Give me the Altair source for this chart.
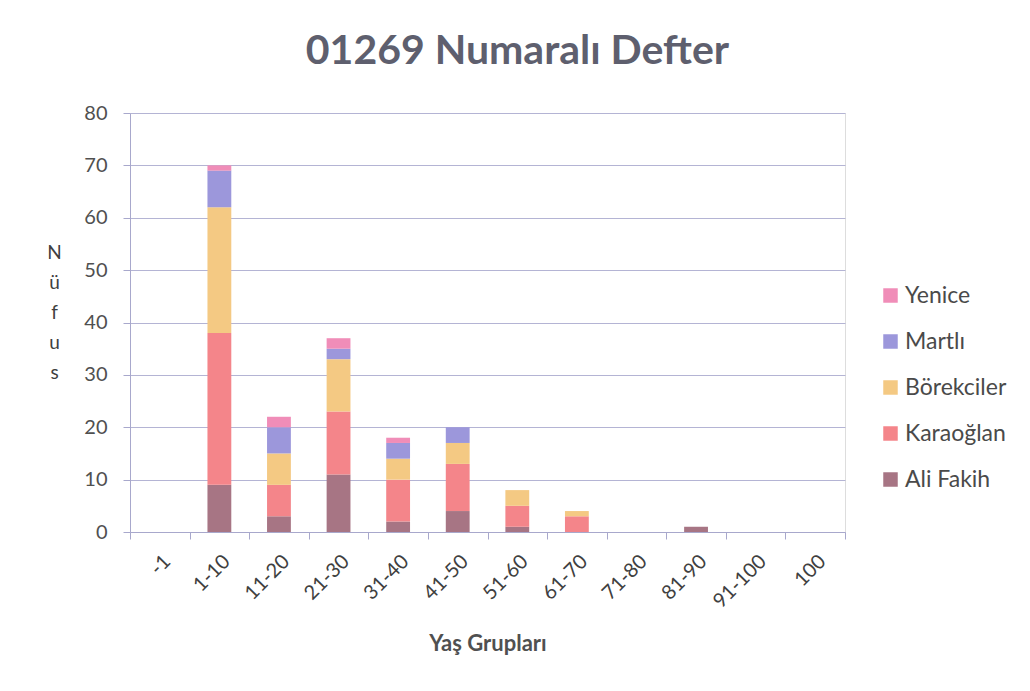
import altair as alt
import pandas as pd

categories = ["-1", "1-10", "11-20", "21-30", "31-40", "41-50", "51-60",
              "61-70", "71-80", "81-90", "91-100", "100"]
series = ["Ali Fakih", "Karaoğlan", "Börekciler", "Martlı", "Yenice"]
ali_fakih  = [0, 9, 3, 11, 2, 4, 1, 0, 0, 1, 0, 0]
karaoglan  = [0, 29, 6, 12, 8, 9, 4, 3, 0, 0, 0, 0]
borekciler = [0, 24, 6, 10, 4, 4, 3, 1, 0, 0, 0, 0]
martli     = [0, 7, 5, 2, 3, 3, 0, 0, 0, 0, 0, 0]
yenice     = [0, 1, 2, 2, 1, 0, 0, 0, 0, 0, 0, 0]
colors = ["#A77584", "#F4858A", "#F4C983", "#9C97DB", "#F08DB8"]

rows = []
for s_i, (name, vals) in enumerate(zip(series, [ali_fakih, karaoglan, borekciler, martli, yenice])):
    for c, v in zip(categories, vals):
        rows.append({"grup": c, "koy": name, "nufus": v, "sira": s_i})
df = pd.DataFrame(rows)

FONT = "Lato"
AXIS_COL = "#A8A8CC"

chart = alt.Chart(df).mark_bar(width=alt.RelativeBandSize(0.4)).encode(
    x=alt.X("grup:N", sort=categories,
            scale=alt.Scale(paddingInner=0, paddingOuter=0),
            axis=alt.Axis(title="Yaş Grupları", labelAngle=-45, tickBand="extent",
                          labelFontSize=20, labelColor="#404040", labelFont=FONT,
                          labelPadding=12, ticks=True, tickSize=7, tickColor=AXIS_COL,
                          domainColor=AXIS_COL, titleFontSize=22, titleFont=FONT,
                          titleFontWeight="bold", titleColor="#505050", titlePadding=22,
                          grid=False)),
    y=alt.Y("sum(nufus):Q", stack="zero",
            scale=alt.Scale(domain=[0, 80], nice=False),
            axis=alt.Axis(title=["N", "ü", "f", "u", "s"], values=list(range(0, 81, 10)),
                          titleAngle=0, titleX=-76, titleY=139, titleBaseline="middle",
                          titleAlign="center", titleLineHeight=30,
                          titleFontSize=19, titleFont=FONT, titleFontWeight="normal",
                          titleColor="#404040",
                          labelFontSize=20, labelColor="#505050", labelFont=FONT,
                          labelPadding=16, tickSize=7, tickColor=AXIS_COL,
                          domainColor=AXIS_COL, gridColor="#B4B4D4", gridWidth=1)),
    color=alt.Color("koy:N", sort=series,
                    scale=alt.Scale(domain=series, range=colors),
                    legend=alt.Legend(title=None, orient="none", legendX=749, legendY=171,
                                      values=series[::-1], symbolType="square",
                                      symbolSize=210, symbolStrokeWidth=0,
                                      labelFontSize=23, labelFont=FONT,
                                      labelColor="#4A4A4A", rowPadding=22,
                                      labelOffset=3)),
    order=alt.Order("sira:Q", sort="ascending"),
).properties(
    width=715, height=419,
    padding={"left": 122, "top": 105, "right": 177, "bottom": 151},
    autosize=alt.AutoSizeParams(type="none"),
    title=alt.TitleParams("01269 Numaralı Defter", fontSize=41, font=FONT,
                          fontWeight="bold", color="#5E5F6E", dx=30, offset=30,
                          anchor="middle"),
).configure_view(stroke=None).configure(background="white")

chart.save("out.html", embed_options={"renderer": "svg", "actions": False})
